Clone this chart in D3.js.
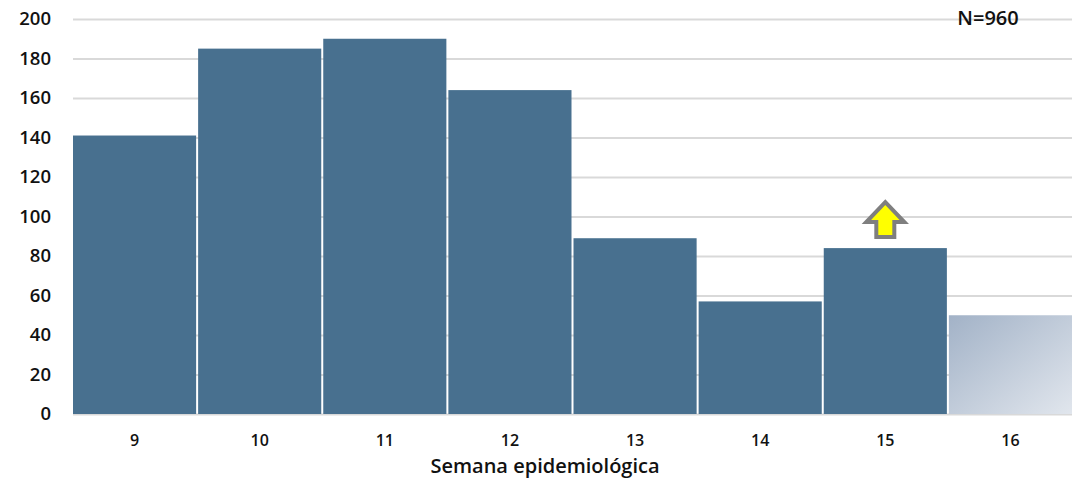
<!DOCTYPE html>
<html>
<head>
<meta charset="utf-8">
<script src="https://cdn.jsdelivr.net/npm/d3@7"></script>
<style>
	body { margin: 0; background: #fff; }
	text { font-family: "Open Sans", "Noto Sans", sans-serif; font-weight: 600; fill: #111; }
</style>
</head>
<body>
<svg></svg>
<script>
// chart data
var semanas = ['9', '10', '11', '12', '13', '14', '15', '16'];
var casos = [141, 185, 190, 164, 89, 57, 84, 50];
var yTicks = [0, 20, 40, 60, 80, 100, 120, 140, 160, 180, 200];
var parcial = ['16'];      // incomplete week, drawn faded
var alerta = ['15'];       // week marked with the up arrow
var total = 'N=960';

var CONF = {
	width: 1076,
	height: 484,
	left: 73,
	right: 1072,
	top: 19,
	bottom: 414
};

function drawChart() {
	var svg = d3.select('svg')
		.attr('width', CONF.width)
		.attr('height', CONF.height);

	var x = d3.scaleBand()
		.domain(semanas)
		.range([CONF.left, CONF.right])
		.paddingInner(0.016)
		.paddingOuter(0);

	var y = d3.scaleLinear()
		.domain([0, 200])
		.range([CONF.bottom, CONF.top]);

	// faded gradient for the partial week
	var grad = svg.append('defs').append('linearGradient')
		.attr('id', 'fade')
		.attr('x1', '0%').attr('y1', '0%')
		.attr('x2', '100%').attr('y2', '100%');
	grad.append('stop').attr('offset', '0%').attr('stop-color', '#a2b2c7');
	grad.append('stop').attr('offset', '100%').attr('stop-color', '#e1e6ed');

	// gridlines + y labels
	var yAxis = d3.axisLeft(y)
		.tickValues(yTicks)
		.tickSize(-(CONF.right - CONF.left))
		.tickPadding(22);

	var gy = svg.append('g')
		.attr('transform', 'translate(' + CONF.left + ',0)')
		.call(yAxis);
	gy.select('.domain').remove();
	gy.selectAll('line')
		.style('stroke', '#d9d9d9')
		.style('stroke-width', 2);
	gy.selectAll('text')
		.style('font-size', '18.5px')
		.style('font-family', '"Open Sans", sans-serif')
		.style('font-weight', 600)
		.style('fill', '#111');

	// bars
	svg.selectAll('rect.bar')
		.data(casos)
		.enter()
		.append('rect')
			.attr('class', 'bar')
			.attr('x', function(d, i) { return x(semanas[i]); })
			.attr('y', function(d) { return y(d); })
			.attr('width', x.bandwidth())
			.attr('height', function(d) { return y(0) - y(d); })
			.style('fill', function(d, i) {
				return parcial.indexOf(semanas[i]) >= 0 ? 'url(#fade)' : '#48708f';
			});

	// x labels
	var xAxis = d3.axisBottom(x).tickSize(0).tickPadding(21);
	var gx = svg.append('g')
		.attr('transform', 'translate(0,' + CONF.bottom + ')')
		.call(xAxis);
	gx.select('.domain').remove();
	gx.selectAll('text')
		.style('font-size', '16px')
		.style('font-family', '"Open Sans", sans-serif')
		.style('font-weight', 600)
		.style('fill', '#111');

	// axis title sits a bit left of the plot centre
	svg.append('text')
		.attr('x', 545)
		.attr('y', 473)
		.attr('text-anchor', 'middle')
		.style('font-size', '20px')
		.text('Semana epidemiológica');

	svg.append('text')
		.attr('x', 988)
		.attr('y', 25)
		.attr('text-anchor', 'middle')
		.style('font-size', '20px')
		.text(total);

	// up arrow above the alert week
	alerta.forEach(function(s) {
		var i = semanas.indexOf(s);
		var cx = x(s) + x.bandwidth() / 2;
		var base = y(casos[i]) - 11;
		var pts = [
			[cx - 9, base], [cx - 9, base - 15], [cx - 19, base - 15],
			[cx, base - 35], [cx + 19, base - 15], [cx + 9, base - 15], [cx + 9, base]
		];
		svg.append('polygon')
			.attr('points', pts.map(function(p) { return p.join(','); }).join(' '))
			.style('fill', '#ffff00')
			.style('stroke', '#7f7f7f')
			.style('stroke-width', 4)
			.style('stroke-linejoin', 'miter');
	});
}

drawChart();
</script>
</body>
</html>
